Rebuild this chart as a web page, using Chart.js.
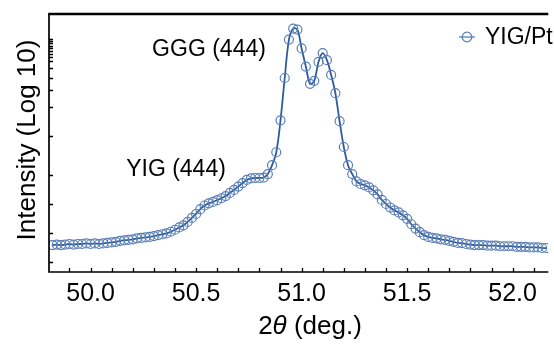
<!DOCTYPE html>
<html>
<head>
<meta charset="utf-8">
<script src="https://cdn.jsdelivr.net/npm/chart.js@4/dist/chart.umd.min.js"></script>
<style>
html,body{margin:0;padding:0;background:#fff;overflow:hidden;}
#wrap{width:554px;height:345px;}
</style>
</head>
<body>
<div id="wrap"><canvas id="c" width="554" height="345"></canvas></div>
<script>
// 2theta (deg.)
const twoTheta = [
49.82,49.84,49.86,49.88,49.90,49.92,49.94,49.96,49.98,50.00,
50.02,50.04,50.06,50.08,50.10,50.12,50.14,50.16,50.18,50.20,
50.22,50.24,50.26,50.28,50.30,50.32,50.34,50.36,50.38,50.40,
50.42,50.44,50.46,50.48,50.50,50.52,50.54,50.56,50.58,50.60,
50.62,50.64,50.66,50.68,50.70,50.72,50.74,50.76,50.78,50.80,
50.82,50.84,50.86,50.88,50.90,50.92,50.94,50.96,50.98,51.00,
51.02,51.04,51.06,51.08,51.10,51.12,51.14,51.16,51.18,51.20,
51.22,51.24,51.26,51.28,51.30,51.32,51.34,51.36,51.38,51.40,
51.42,51.44,51.46,51.48,51.50,51.52,51.54,51.56,51.58,51.60,
51.62,51.64,51.66,51.68,51.70,51.72,51.74,51.76,51.78,51.80,
51.82,51.84,51.86,51.88,51.90,51.92,51.94,51.96,51.98,52.00,
52.02,52.04,52.06,52.08,52.10,52.12,52.14,52.16
];
// Intensity (counts, plotted on log axis)
const intensityYIGPt = [
75,76,75,76,77,76,77,77,78,77,
78,77,78,79,80,81,83,84,85,86,
88,89,90,91,93,95,97,99,103,108,
114,120,130,143,157,176,192,202,209,218,
228,240,259,278,301,327,352,365,369,369,
373,405,500,680,1450,3960,9860,12800,12500,8000,
5200,3450,3700,5800,7150,6050,4260,2760,1420,770,
500,405,340,320,310,295,275,250,219,199,
183,171,163,152,140,123,111,102,95,91,
89,88,86,85,83,81,79,78.5,77,76,
75,75,75,74,74,74,73,73,73,73,
72,72,72,71,71,71,70,70
];
const seriesName = "YIG/Pt";
const xTickLabels = [50.0, 50.5, 51.0, 51.5, 52.0];
const xMinorTicks = [49.9,50.0,50.1,50.2,50.3,50.4,50.5,50.6,50.7,50.8,50.9,51.0,51.1,51.2,51.3,51.4,51.5,51.6,51.7,51.8,51.9,52.0,52.1];
const yTicks = [50,100,200,400,1000,2000,3000,4000,5000,6000,6500,7000,7500,8000,8500,9000,9500,10000];
const peakLabels = ["GGG (444)", "YIG (444)"];

const FONT = '"Liberation Sans", Arial, sans-serif';
const LINE_COLOR = '#2f5c9c';
const PT_COLOR = '#5a7fb6';

const decor = {
  id: 'decor',
  afterDraw(chart) {
    const ctx = chart.ctx;
    const a = chart.chartArea;
    const xs = chart.scales.x, ys = chart.scales.y;
    ctx.save();
    ctx.strokeStyle = '#000';
    // ticks
    ctx.lineWidth = 1.3;
    ctx.beginPath();
    yTicks.forEach(v => {
      const p = Math.round(ys.getPixelForValue(v)) + 0.5;
      ctx.moveTo(a.left, p); ctx.lineTo(a.left + 4, p);
    });
    xMinorTicks.forEach(v => {
      const p = Math.round(xs.getPixelForValue(v)) + 0.5;
      ctx.moveTo(p, a.bottom); ctx.lineTo(p, a.bottom - 4);
    });
    ctx.stroke();
    // axes
    ctx.lineWidth = 1.7;
    ctx.beginPath();
    ctx.moveTo(a.left, a.top); ctx.lineTo(a.left, a.bottom); ctx.lineTo(a.right, a.bottom);
    ctx.stroke();
    ctx.lineWidth = 2.5;
    ctx.beginPath();
    ctx.moveTo(a.left - 0.8, a.top); ctx.lineTo(a.right, a.top);
    ctx.stroke();

    // y title
    ctx.fillStyle = '#000';
    ctx.save();
    ctx.translate(28, 140);
    ctx.rotate(-Math.PI / 2);
    ctx.font = '26px ' + FONT;
    ctx.textAlign = 'center';
    ctx.textBaseline = 'middle';
    ctx.fillText('Intensity (Log 10)', 0, 0);
    ctx.restore();

    // x title with italic theta
    ctx.textBaseline = 'middle';
    ctx.textAlign = 'left';
    const parts = [['2', '26px ' + FONT], ['\u03B8', 'italic 26px ' + FONT], [' (deg.)', '26px ' + FONT]];
    let total = 0;
    parts.forEach(p => { ctx.font = p[1]; total += ctx.measureText(p[0]).width; });
    let x0 = 310 - total / 2;
    parts.forEach(p => { ctx.font = p[1]; ctx.fillText(p[0], x0, 327); x0 += ctx.measureText(p[0]).width; });

    // peak annotations
    ctx.font = '23px ' + FONT;
    ctx.textAlign = 'center';
    ctx.fillText(peakLabels[0], 209, 50);
    ctx.fillText(peakLabels[1], 176, 170);

    // legend
    ctx.strokeStyle = PT_COLOR;
    ctx.lineWidth = 1.3;
    ctx.beginPath();
    ctx.moveTo(459, 37); ctx.lineTo(475, 37);
    ctx.stroke();
    ctx.beginPath();
    ctx.arc(467, 37, 4.8, 0, Math.PI * 2);
    ctx.stroke();
    ctx.textAlign = 'left';
    ctx.font = '23px ' + FONT;
    ctx.fillText(seriesName, 485, 38);
    ctx.restore();
  }
};

new Chart(document.getElementById('c'), {
  type: 'line',
  data: {
    datasets: [{
      label: seriesName,
      data: twoTheta.map((x, i) => ({ x: x, y: intensityYIGPt[i] })),
      borderColor: LINE_COLOR,
      borderWidth: 1.8,
      tension: 0.35,
      pointRadius: 4.5,
      pointBorderWidth: 1.2,
      pointBorderColor: PT_COLOR,
      pointBackgroundColor: 'rgba(0,0,0,0)',
      fill: false
    }]
  },
  options: {
    responsive: false,
    devicePixelRatio: 1,
    animation: false,
    events: [],
    layout: { padding: { top: 14, right: 0, left: 0, bottom: 0 } },
    plugins: { legend: { display: false }, tooltip: { enabled: false } },
    scales: {
      x: {
        type: 'linear',
        min: 49.803,
        max: 52.169,
        grid: { display: false, drawTicks: false },
        border: { display: false },
        afterBuildTicks: s => { s.ticks = xTickLabels.map(v => ({ value: v })); },
        afterFit: s => { s.height = 73; },
        ticks: {
          padding: 7,
          maxRotation: 0,
          autoSkip: false,
          color: '#000',
          font: { family: FONT, size: 25 },
          callback: v => Number(v).toFixed(1)
        }
      },
      y: {
        type: 'logarithmic',
        min: 39.6,
        max: 18100,
        grid: { display: false, drawTicks: false },
        border: { display: false },
        afterBuildTicks: s => { s.ticks = yTicks.map(v => ({ value: v })); },
        afterFit: s => { s.width = 49; },
        ticks: { display: false }
      }
    }
  },
  plugins: [decor]
});
</script>
</body>
</html>
